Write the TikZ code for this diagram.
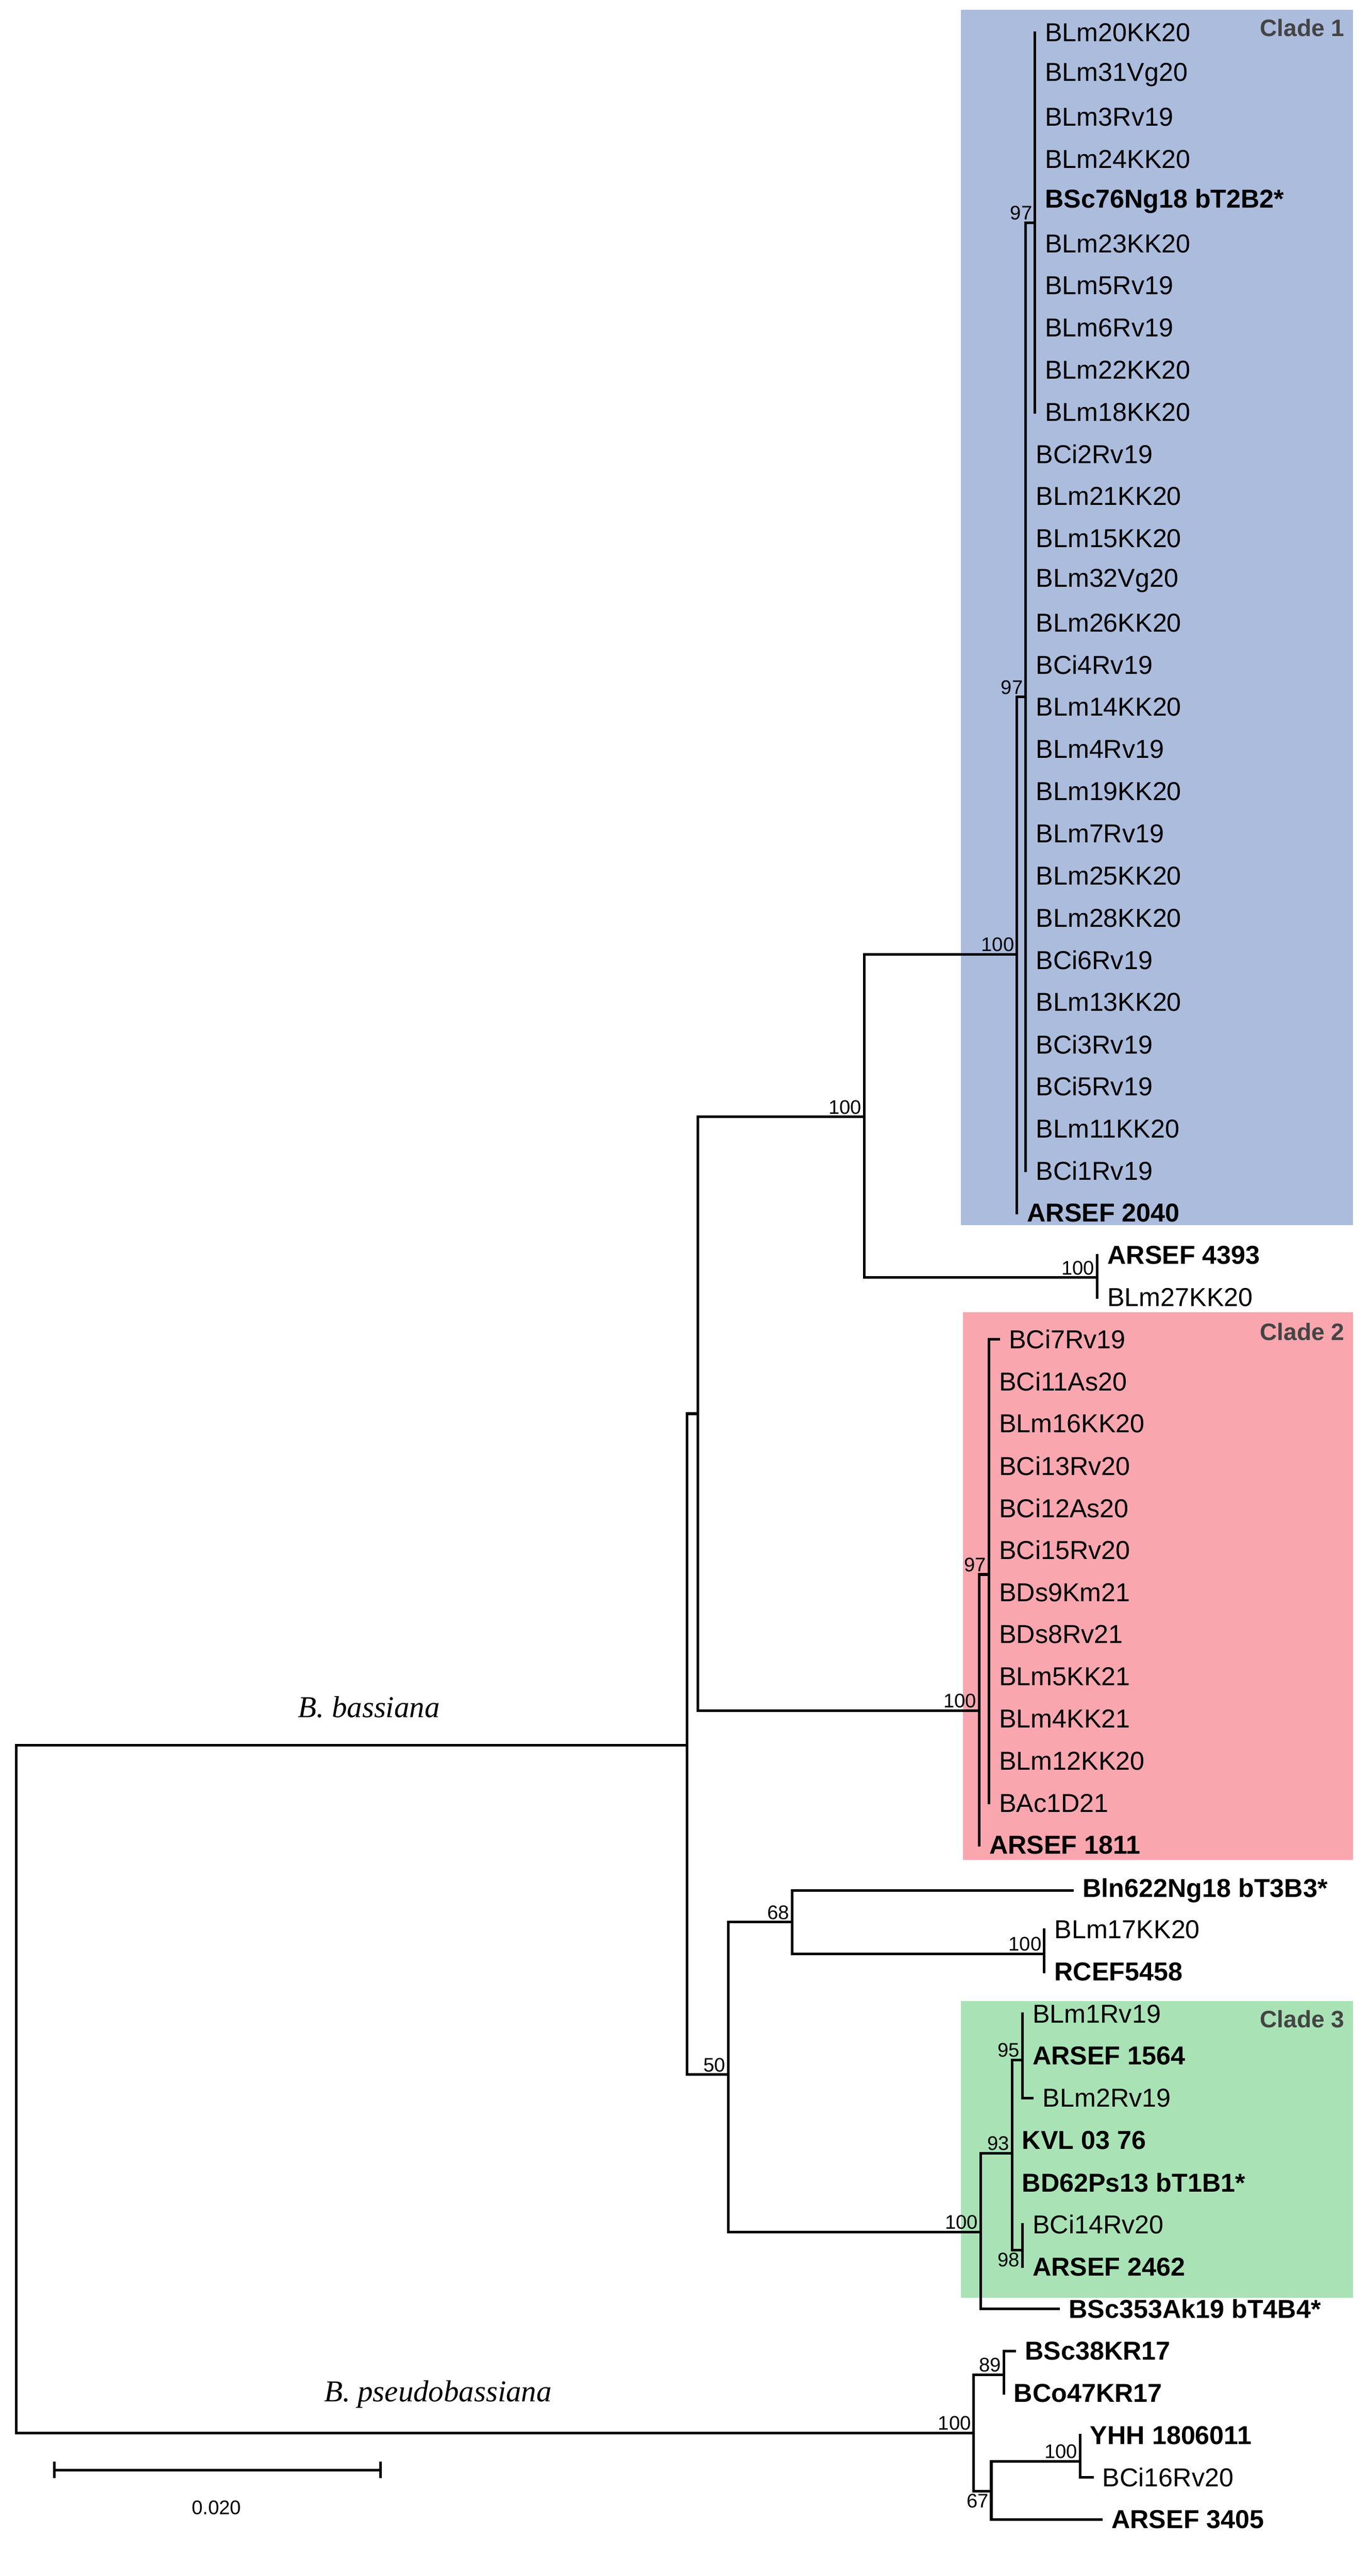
\documentclass[tikz,border=0pt]{standalone}
\usepackage{fontspec}
\setmainfont{Liberation Sans}
\newfontfamily\serfam{Liberation Serif}
\definecolor{cblue}{HTML}{ABBCDD}
\definecolor{cpink}{HTML}{F9A6AF}
\definecolor{cgreen}{HTML}{A9E3B5}
\definecolor{cgray}{HTML}{444444}
\begin{document}
\begin{tikzpicture}[x=1pt,y=-1pt,
  br/.style={line width=1.6pt,line cap=rect},
  lf/.style={anchor=west,inner sep=0pt,xshift=6pt,font=\fontsize{15.8}{17}\selectfont},
  lfb/.style={lf,font=\fontsize{15.8}{17}\selectfont\bfseries},
  bs/.style={anchor=south east,inner sep=1.5pt,font=\fontsize{12}{13}\selectfont},
  bsb/.style={anchor=north east,inner sep=1.5pt,font=\fontsize{12}{13}\selectfont},
  clade/.style={anchor=east,inner sep=0pt,text=cgray,font=\fontsize{14.5}{16}\selectfont\bfseries},
  sp/.style={font=\fontsize{18.5}{20}\selectfont\serfam\itshape}]
\useasboundingbox (0,0) rectangle (835,1570.7);
\def\R#1{20+25.7*#1}
% clade boxes
\fill[cblue] (586,6) rectangle (825,747);
\fill[cpink] (587,800) rectangle (825,1134);
\fill[cgreen] (586,1220) rectangle (825,1401);
\node[clade] (cl1) at (820,17) {Clade 1};
\node[clade] (cl2) at (820,812) {Clade 2};
\node[clade] (cl3) at (820,1231) {Clade 3};
% internal nodes
\coordinate (root) at (10,1270);
\coordinate (nbas) at (419,1064);
\coordinate (n425) at (425.5,862);
\coordinate (n527) at (527,681);
\coordinate (n100a) at (620,582);
\coordinate (n97b) at (625.4,425);
\coordinate (n97a) at (631,135.8);
\coordinate (n4393) at (669,779);
\coordinate (c2) at (597,1043);
\coordinate (c2in) at (603,960);
\coordinate (n50) at (444,1265);
\coordinate (n68) at (483,1172);
\coordinate (n17) at (636.7,1191.4);
\coordinate (c3) at (598,1361);
\coordinate (n93) at (617,1313);
\coordinate (n95) at (623.4,1256);
\coordinate (n98) at (623.4,1372);
\coordinate (np) at (593.7,1483.5);
\coordinate (n89) at (612,1448);
\coordinate (n67) at (604.4,1519);
\coordinate (n100y) at (658.5,1500.8);
% clade 1 inner
\foreach \t [count=\i from 0] in {BLm20KK20,BLm31Vg20,BLm3Rv19,BLm24KK20,BSc76Ng18 bT2B2*,BLm23KK20,BLm5Rv19,BLm6Rv19,BLm22KK20,BLm18KK20}{
  \coordinate (a\i) at (631,{\R{\i}});
  \draw[br] (n97a) |- (a\i);
  \ifnum\i=4 \node[lfb] (ta\i) at (a\i) {\t};\else \node[lf] (ta\i) at (a\i) {\t};\fi
}
\foreach \t [count=\i from 10] in {BCi2Rv19,BLm21KK20,BLm15KK20,BLm32Vg20,BLm26KK20,BCi4Rv19,BLm14KK20,BLm4Rv19,BLm19KK20,BLm7Rv19,BLm25KK20,BLm28KK20,BCi6Rv19,BLm13KK20,BCi3Rv19,BCi5Rv19,BLm11KK20,BCi1Rv19}{
  \coordinate (b\i) at (625.4,{\R{\i}});
  \draw[br] (n97b) |- (b\i);
  \node[lf] (tb\i) at (b\i) {\t};
}
\draw[br] (n97b) |- (n97a);
\coordinate (l28) at (620,{\R{28}});
\draw[br] (n100a) |- (n97b);
\draw[br] (n100a) |- (l28);
\node[lfb] (t28) at (l28) {ARSEF 2040};
\draw[br] (n527) |- (n100a);
\draw[br] (n527) |- (n4393);
\coordinate (l29) at (669,{\R{29}});
\coordinate (l30) at (669,{\R{30}});
\draw[br] (n4393) |- (l29);
\draw[br] (n4393) |- (l30);
\node[lfb] (t29) at (l29) {ARSEF 4393};
\node[lf] (t30) at (l30) {BLm27KK20};
% clade 2
\coordinate (l31) at (609,{\R{31}});
\draw[br] (c2in) |- (l31);
\node[lf] (t31) at (l31) {BCi7Rv19};
\foreach \t [count=\i from 32] in {BCi11As20,BLm16KK20,BCi13Rv20,BCi12As20,BCi15Rv20,BDs9Km21,BDs8Rv21,BLm5KK21,BLm4KK21,BLm12KK20,BAc1D21}{
  \coordinate (c\i) at (603,{\R{\i}});
  \draw[br] (c2in) |- (c\i);
  \node[lf] (tc\i) at (c\i) {\t};
}
\coordinate (l43) at (597,{\R{43}});
\draw[br] (c2) |- (c2in);
\draw[br] (c2) |- (l43);
\node[lfb] (t43) at (l43) {ARSEF 1811};
\draw[br] (n425) |- (n527);
\draw[br] (n425) |- (c2);
% 68 group
\coordinate (l44) at (654,{\R{44}+2});
\draw[br] (n68) |- (l44);
\node[lfb] (t44) at (l44) {Bln622Ng18 bT3B3*};
\draw[br] (n68) |- (n17);
\coordinate (l45) at (636.7,{\R{45}});
\coordinate (l46) at (636.7,{\R{46}});
\draw[br] (n17) |- (l45);
\draw[br] (n17) |- (l46);
\node[lf] (t45) at (l45) {BLm17KK20};
\node[lfb] (t46) at (l46) {RCEF5458};
% clade 3
\coordinate (l47) at (623.4,{\R{47}});
\coordinate (l48) at (623.4,{\R{48}});
\coordinate (l49) at (629.5,{\R{49}});
\draw[br] (n95) |- (l47);
\draw[br] (n95) |- (l48);
\draw[br] (n95) |- (l49);
\node[lf] (t47) at (l47) {BLm1Rv19};
\node[lfb] (t48) at (l48) {ARSEF 1564};
\node[lf] (t49) at (l49) {BLm2Rv19};
\coordinate (l50) at (617,{\R{50}});
\coordinate (l51) at (617,{\R{51}});
\node[lfb] (t50) at (l50) {KVL 03 76};
\node[lfb] (t51) at (l51) {BD62Ps13 bT1B1*};
\coordinate (l52) at (623.4,{\R{52}});
\coordinate (l53) at (623.4,{\R{53}});
\draw[br] (n98) |- (l52);
\draw[br] (n98) |- (l53);
\node[lf] (t52) at (l52) {BCi14Rv20};
\node[lfb] (t53) at (l53) {ARSEF 2462};
\draw[br] (n93) |- (n95);
\draw[br] (n93) |- (n98);
\draw[br] (n93) |- (l50);
\coordinate (l54) at (645.5,{\R{54}});
\draw[br] (c3) |- (n93);
\draw[br] (c3) |- (l54);
\node[lfb] (t54) at (l54) {BSc353Ak19 bT4B4*};
\draw[br] (n50) |- (n68);
\draw[br] (n50) |- (c3);
\draw[br] (nbas) |- (n425);
\draw[br] (nbas) |- (n50);
% pseudobassiana
\coordinate (l55) at (618.8,{\R{55}});
\coordinate (l56) at (612,{\R{56}});
\draw[br] (n89) |- (l55);
\draw[br] (n89) |- (l56);
\node[lfb] (t55) at (l55) {BSc38KR17};
\node[lfb] (t56) at (l56) {BCo47KR17};
\coordinate (l57) at (658.5,{\R{57}});
\coordinate (l58) at (666,{\R{58}});
\draw[br] (n100y) |- (l57);
\draw[br] (n100y) |- (l58);
\node[lfb] (t57) at (l57) {YHH 1806011};
\node[lf] (t58) at (l58) {BCi16Rv20};
\coordinate (l59) at (671.5,{\R{59}});
\draw[br] (n67) |- (n100y);
\draw[br] (n67) |- (l59);
\node[lfb] (t59) at (l59) {ARSEF 3405};
\draw[br] (np) |- (n89);
\draw[br] (np) |- (n67);
\draw[br] (root) |- (nbas);
\draw[br] (root) |- (np);
% bootstrap values
\node[bs] (b1) at (n97a) {97};
\node[bs] (b2) at (n97b) {97};
\node[bs] (b3) at (n100a) {100};
\node[bs] (b4) at (n527) {100};
\node[bs] (b5) at (n4393) {100};
\node[bs] (b6) at (c2in) {97};
\node[bs] (b7) at (c2) {100};
\node[bs] (b8) at (n68) {68};
\node[bs] (b9) at (n17) {100};
\node[bs] (b10) at (n50) {50};
\node[bs] (b11) at (c3) {100};
\node[bs] (b12) at (n95) {95};
\node[bs] (b13) at (n93) {93};
\node[bsb] (b14) at (n98) {98};
\node[bs] (b15) at (np) {100};
\node[bs] (b16) at (n89) {89};
\node[bsb] (b17) at (n67) {67};
\node[bs] (b18) at (n100y) {100};
% species
\node[sp] (sb) at (225,1041) {B. bassiana};
\node[sp] (sps) at (267,1460) {B. pseudobassiana};
% scale bar
\coordinate (s1) at (33,1506);
\coordinate (s2) at (232,1506);
\draw[line width=1.6pt] (s1) -- (s2);
\draw[line width=1.6pt] ([yshift=-5pt]s1) -- ([yshift=5pt]s1);
\draw[line width=1.6pt] ([yshift=-5pt]s2) -- ([yshift=5pt]s2);
\node[font=\fontsize{12}{13}\selectfont] (sl) at (132,1529) {0.020};
\end{tikzpicture}
\end{document}
